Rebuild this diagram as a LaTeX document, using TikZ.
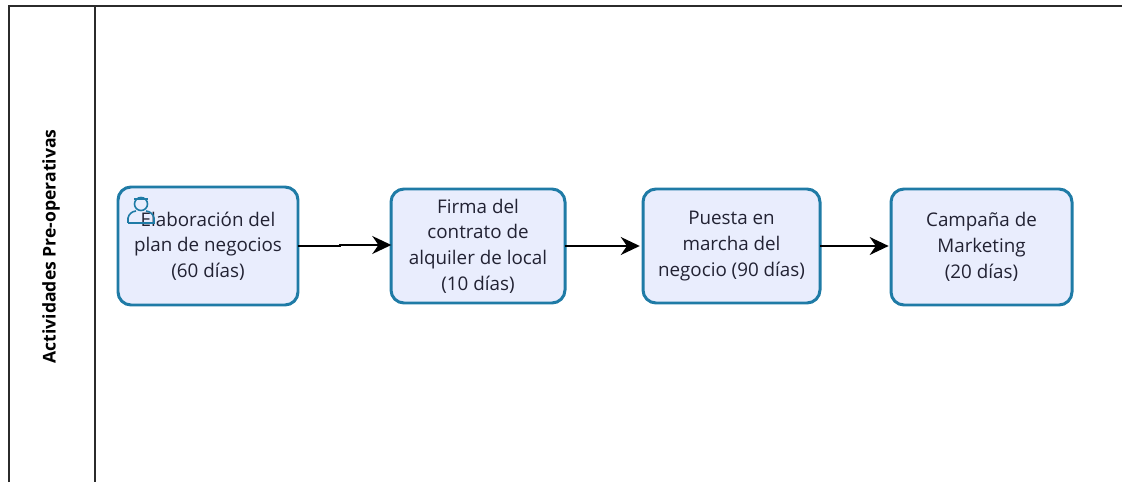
\documentclass[tikz,border=0pt]{standalone}
\usepackage{fontspec}
\setmainfont{Open Sans}
\usepackage{xcolor}
\usetikzlibrary{arrows.meta}
\usetikzlibrary{positioning,calc}
\definecolor{taskblue}{HTML}{1F7BA6}
\definecolor{taskfill}{HTML}{E9EDFD}
\definecolor{lanegray}{HTML}{2B2B2B}
\definecolor{tasktext}{HTML}{222233}
\tikzset{
    task/.style={
        draw=taskblue,
        fill=taskfill,
        rounded corners=0.26cm,
        line width=1.7pt,
        align=center,
        inner sep=0pt,
        text=tasktext,
        font=\fontsize{10.7}{14.6}\selectfont
    },
    flow/.style={
        line width=0.85pt,
        shorten <=-1pt,
        -{Stealth[length=0.38cm, width=0.36cm]}
    },
    laneline/.style={
        draw=lanegray,
        line width=0.8pt
    }
}

\begin{document}
\begin{tikzpicture}
  \useasboundingbox (0,0) rectangle (22.44,9.64);

  % Lane
  \coordinate (lanebottom) at (0.18,0);
  \coordinate (lanecorner) at (0.18,9.52);
  \coordinate (laneend) at (22.44,9.52);
  \coordinate (septop) at (1.9,9.52);
  \coordinate (sepbottom) at (1.9,0);
  \draw[laneline] (lanebottom) -- (lanecorner) -- (laneend);
  \draw[laneline] (septop) -- (sepbottom);
  \node[rotate=90, font=\fontsize{10}{12}\selectfont\bfseries, text=black] (lanelabel) at (1.02,4.71) {Actividades Pre-operativas};

  % Tasks
  \node[task, minimum width=3.6cm, minimum height=2.36cm] (plan) at (4.16,4.72) {Elaboración del\\plan de negocios\\(60 días)};
  \node[task, minimum width=3.48cm, minimum height=2.28cm] (firma) at (9.56,4.72) {Firma del\\contrato de\\alquiler de local\\(10 días)};
  \node[task, minimum width=3.54cm, minimum height=2.28cm] (puesta) at (14.63,4.72) {Puesta en\\marcha del\\negocio (90 días)};
  \node[task, minimum width=3.62cm, minimum height=2.32cm] (campana) at (19.63,4.70) {Campaña de\\Marketing\\(20 días)};

  % User icon
  \begin{scope}[taskblue, line width=0.9pt]
    \draw (2.82,5.56) circle (0.13cm);
    \draw (2.56,5.18) -- (2.56,5.28) to[bend left=35] (2.72,5.42);
    \draw (2.92,5.42) to[bend left=35] (3.08,5.28) -- (3.08,5.18) -- (2.56,5.18);
    \draw (2.68,5.66) -- (2.96,5.66);
  \end{scope}

  % Flow
  \coordinate (jog) at (6.8,4.72);
  \draw[flow, shorten >=-1pt] (plan.east) -- (jog) -- ++(0,0.02) -- ($(firma.west)+(0,0.02)$);
  \draw[flow, shorten >=1pt] (firma.east) -- (puesta.west);
  \draw[flow, shorten >=0.5pt] (puesta.east) -- (campana.west |- puesta.east);
\end{tikzpicture}
\end{document}
